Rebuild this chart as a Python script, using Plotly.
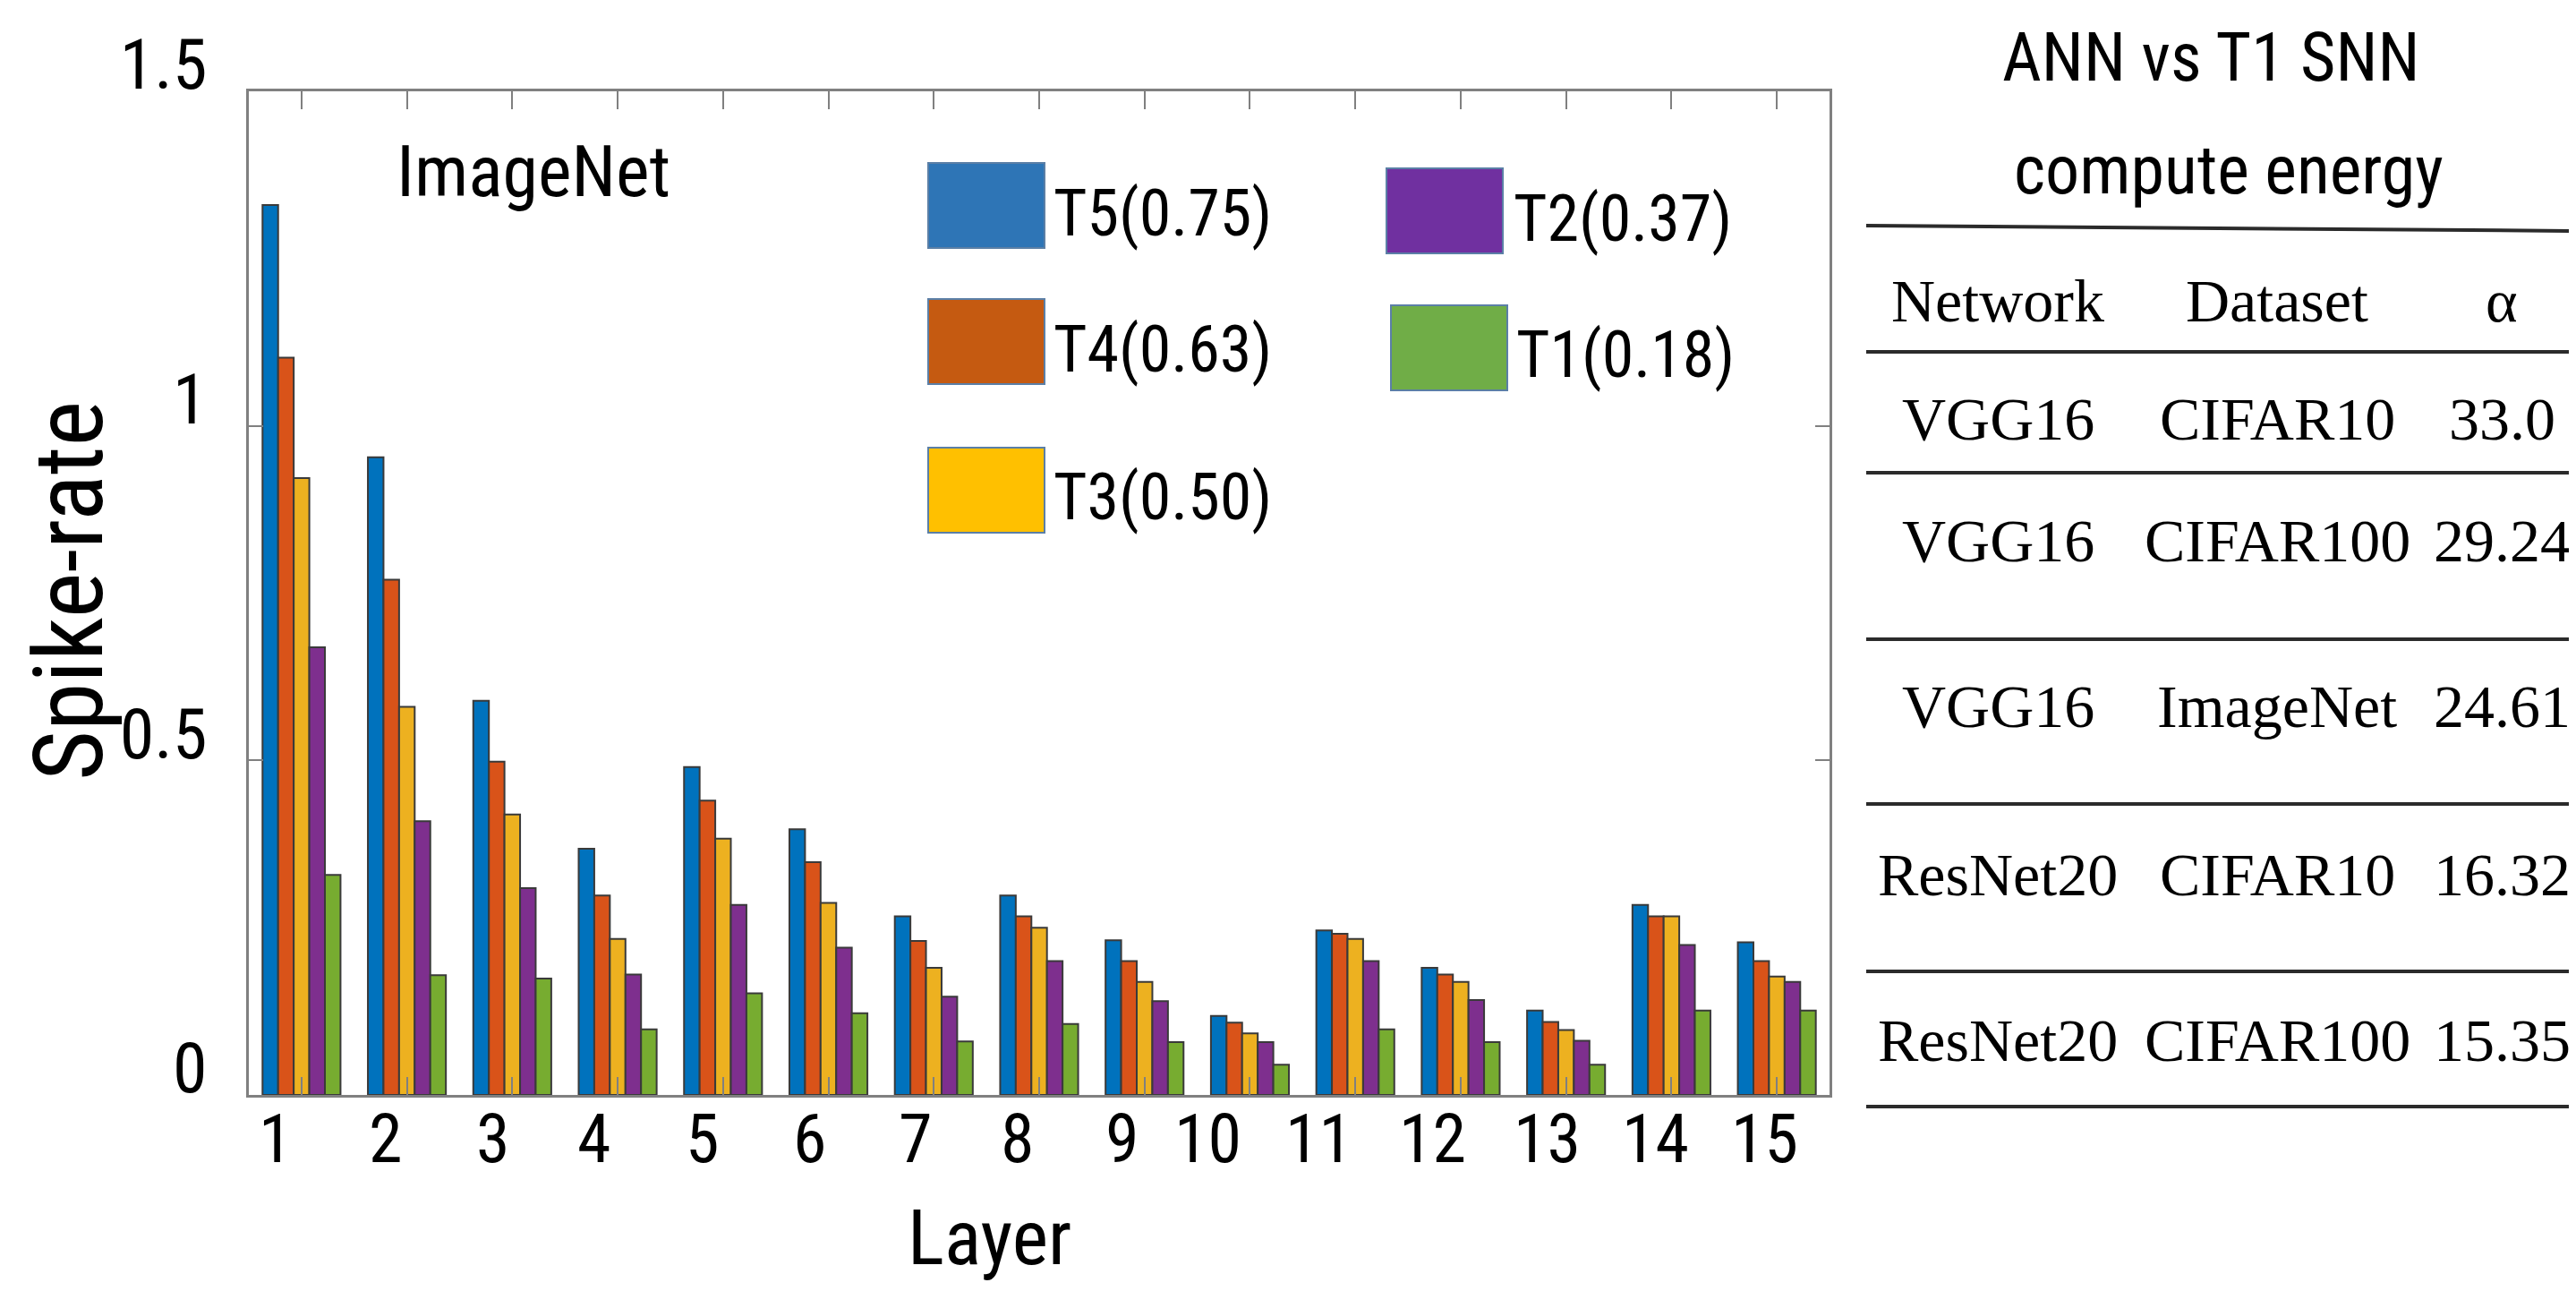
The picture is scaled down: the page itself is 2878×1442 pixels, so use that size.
import plotly.graph_objects as go

# ---------------- data ----------------
layers = list(range(1, 16))
t5 = [1.330, 0.953, 0.589, 0.368, 0.490, 0.397, 0.267, 0.298, 0.231, 0.118, 0.246, 0.190, 0.126, 0.284, 0.228]
t4 = [1.102, 0.770, 0.498, 0.298, 0.440, 0.348, 0.230, 0.267, 0.200, 0.108, 0.241, 0.180, 0.109, 0.267, 0.200]
t3 = [0.922, 0.580, 0.419, 0.233, 0.383, 0.287, 0.190, 0.250, 0.169, 0.092, 0.233, 0.169, 0.097, 0.267, 0.177]
t2 = [0.669, 0.409, 0.309, 0.180, 0.284, 0.220, 0.147, 0.200, 0.140, 0.079, 0.200, 0.142, 0.081, 0.224, 0.169]
t1 = [0.329, 0.179, 0.174, 0.098, 0.152, 0.122, 0.080, 0.106, 0.079, 0.045, 0.098, 0.079, 0.045, 0.126, 0.126]
series_names = ["T5(0.75)", "T4(0.63)", "T3(0.50)", "T2(0.37)", "T1(0.18)"]
y_tick_vals = [0, 0.5, 1, 1.5]
y_tick_text = ["0", "0.5", "1", "1.5"]
x_tick_text = [str(v) for v in layers]

table_title = ["ANN vs T1 SNN", "compute energy"]
table_header = ["Network", "Dataset", "α"]
networks = ["VGG16", "VGG16", "VGG16", "ResNet20", "ResNet20"]
datasets = ["CIFAR10", "CIFAR100", "ImageNet", "CIFAR10", "CIFAR100"]
alphas = ["33.0", "29.24", "24.61", "16.32", "15.35"]

# ---------------- styling ----------------
W, H = 2878, 1442
OFF = 8  # page body margin
bar_colors = ["#0072BD", "#D95319", "#EDB120", "#7E2F8E", "#77AC30"]
legend_colors = ["#2E75B6", "#C55A11", "#FFC000", "#7030A0", "#70AD47"]
SANS = "Liberation Sans Narrow, Arial Narrow, Roboto Condensed, Lato, sans-serif"
SERIF = "Liberation Serif, Times New Roman, serif"
AXC = "#808080"
# horizontal pixel offsets of the (slightly misaligned) layer labels from the group centres
label_xshift = [-29, -24, -21, -26, -23, -21, -20, -24, -25, -47, -41, -31, -21, -18, -14]


def px(x):
    return (x - OFF) / W


def py(y):
    return 1 - (y - OFF) / H


fig = go.Figure()
for name, vals, col in zip(series_names, [t5, t4, t3, t2, t1], bar_colors):
    fig.add_trace(go.Bar(x=layers, y=vals, name=name, marker_color=col,
                         marker_line_color="#3a3a3a", marker_line_width=2,
                         showlegend=False))

fig.update_layout(
    width=W, height=H, autosize=False,
    margin=dict(l=0, r=0, t=0, b=0, pad=0),
    paper_bgcolor="white", plot_bgcolor="white",
    barmode="group", bargap=0.26, bargroupgap=0,
    font=dict(family=SANS, color="black"),
    showlegend=False,
)
fig.update_xaxes(
    domain=[px(278), px(2044)], range=[0.5, 15.5], automargin=False,
    tickvals=layers, showticklabels=False,
    ticks="inside", ticklen=20, tickwidth=2, tickcolor=AXC,
    showline=True, linecolor=AXC, linewidth=3, mirror="ticks",
    showgrid=False, zeroline=False,
)
fig.update_yaxes(
    domain=[py(1223), py(102)], range=[0, 1.5], automargin=False,
    tickvals=y_tick_vals, ticktext=y_tick_text,
    ticks="inside", ticklen=16, tickwidth=2, tickcolor=AXC,
    showline=True, linecolor=AXC, linewidth=3, mirror="ticks",
    showgrid=False, zeroline=False,
    tickfont=dict(family=SANS, size=78, color="black"),
    ticklabelshift=-30, ticklabelstandoff=28,
)

ann = []
shapes = []

# layer labels under the axis (placed on the x scale)
for lv, lt, dx in zip(layers, x_tick_text, label_xshift):
    ann.append(dict(text=lt, x=lv, xref="x", y=py(1272), yref="paper", xshift=dx,
                    showarrow=False, font=dict(family=SANS, size=76),
                    xanchor="center", yanchor="middle"))

# axis titles and in-plot label
ann.append(dict(text="Layer", x=px(1105), y=py(1382), xref="paper", yref="paper",
                showarrow=False, font=dict(family=SANS, size=86), xanchor="center", yanchor="middle"))
ann.append(dict(text="Spike-rate", x=px(77), y=py(660), xref="paper", yref="paper", textangle=-90,
                showarrow=False, font=dict(family=SANS, size=108), xanchor="center", yanchor="middle"))
ann.append(dict(text="ImageNet", x=px(596), y=py(192), xref="paper", yref="paper",
                showarrow=False, font=dict(family=SANS, size=80), xanchor="center", yanchor="middle"))

# manual legend (swatch left x, swatch top y, text left x, text center y)
legend_pos = [(1037, 182, 1175, 238), (1037, 334, 1175, 390), (1037, 500, 1175, 555),
              (1549, 188, 1689, 244), (1554, 341, 1692, 396)]
for name, col, (sx, sy, tx, ty) in zip(series_names, legend_colors, legend_pos):
    shapes.append(dict(type="rect", xref="paper", yref="paper",
                       x0=px(sx), x1=px(sx + 130), y0=py(sy + 95), y1=py(sy),
                       fillcolor=col, line=dict(color="#5B7FA6", width=2)))
    ann.append(dict(text=name, x=px(tx), y=py(ty), xref="paper", yref="paper",
                    showarrow=False, font=dict(family=SANS, size=72),
                    xanchor="left", yanchor="middle"))

# table title
for txt, (cx, cy) in zip(table_title, [(2470, 64), (2490, 190)]):
    ann.append(dict(text=txt, x=px(cx), y=py(cy), xref="paper", yref="paper",
                    showarrow=False, font=dict(family=SANS, size=76),
                    xanchor="center", yanchor="middle"))

# table lines
line_ys = [(252, 258), (393, 393), (528, 528), (714, 714), (898, 898), (1085, 1085), (1236, 1236)]
for y0, y1 in line_ys:
    shapes.append(dict(type="line", xref="paper", yref="paper",
                       x0=px(2085), x1=px(2886), y0=py(y0), y1=py(y1),
                       line=dict(color="#2b2b2b", width=4)))

col_x = [2232, 2544, 2795]
header_y = 336
row_ys = [468, 604, 789, 977, 1162]
for txt, cx in zip(table_header, col_x):
    ann.append(dict(text=txt, x=px(cx), y=py(header_y), xref="paper", yref="paper",
                    showarrow=False, font=dict(family=SERIF, size=68),
                    xanchor="center", yanchor="middle"))
for ry, row in zip(row_ys, zip(networks, datasets, alphas)):
    for txt, cx in zip(row, col_x):
        ann.append(dict(text=txt, x=px(cx), y=py(ry), xref="paper", yref="paper",
                        showarrow=False, font=dict(family=SERIF, size=68),
                        xanchor="center", yanchor="middle"))

fig.update_layout(annotations=ann, shapes=shapes)
fig.write_html("out.html")
